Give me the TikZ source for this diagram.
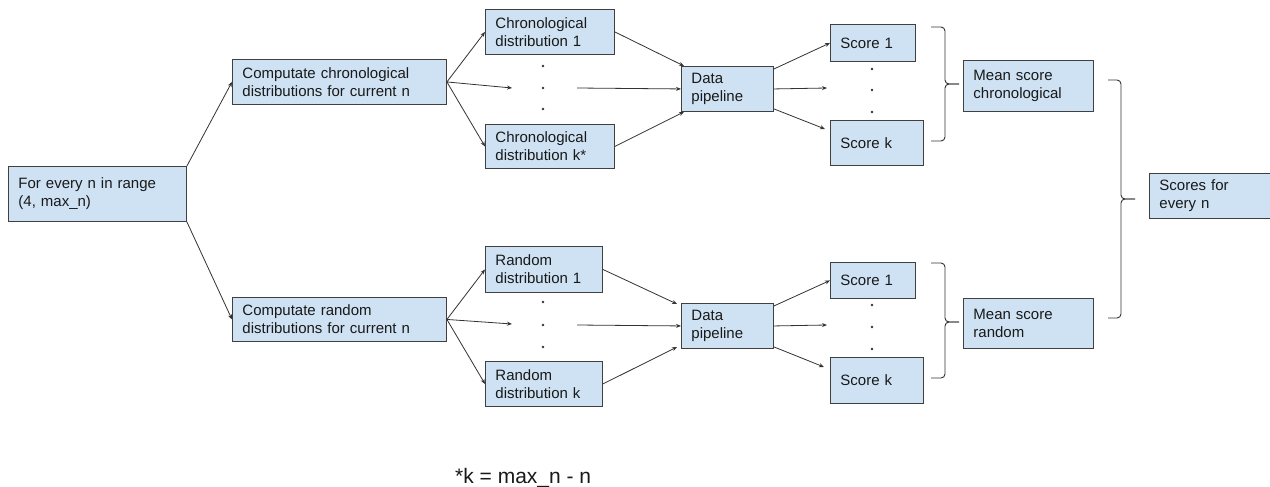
\documentclass[tikz,border=0pt]{standalone}
\usepackage{fontspec}
\setmainfont{Liberation Sans}
\usetikzlibrary{arrows.meta}
\definecolor{boxblue}{HTML}{CFE2F3}
\definecolor{boxline}{HTML}{404040}
\definecolor{linec}{HTML}{333333}
\begin{document}
\begin{tikzpicture}[x=1pt,y=-1pt,
  box/.style={draw=boxline, fill=boxblue, line width=0.9pt, anchor=north west,
    inner xsep=10pt, inner ysep=0pt, align=left, text=black!90,
    font=\fontsize{15}{18.3}\selectfont},
  conn/.style={draw=linec, line width=0.8pt, -{Stealth[length=5pt,width=4pt]}},
  brace/.style={draw=linec, line width=0.9pt, rounded corners=4pt},
  dotc/.style={fill=linec, draw=none}]
\useasboundingbox (0,0) rectangle (1270,487);
\clip (0,0) rectangle (1270,487);
\fill[white] (0,0) rectangle (1270,487);

% nodes
\node[box, text width=158pt, minimum height=55pt] (A) at (8,166) {For every n in range\\(4, max\_n)};
\node[box, text width=194pt, minimum height=45pt] (B) at (232,59) {Computate chronological\\distributions for current n};
\node[box, text width=194pt, minimum height=44pt] (C) at (232,297) {Computate random\\distributions for current n};
\node[box, text width=109pt, minimum height=45pt] (D1) at (485,9) {Chronological\\distribution 1};
\node[box, text width=109pt, minimum height=44pt] (Dk) at (485,124) {Chronological\\distribution k*};
\node[box, text width=72pt, minimum height=45pt] (P1) at (681,66) {Data\\pipeline};
\node[box, text width=65pt, minimum height=37pt] (S1) at (830,24) {Score 1};
\node[box, text width=73pt, minimum height=45pt] (Sk) at (830,120) {Score k};
\node[box, text width=110pt, minimum height=51pt] (M1) at (963,60) {Mean score\\chronological};
\node[box, text width=110pt, minimum height=45pt] (F) at (1149,173) {Scores for\\every n};
\node[box, text width=97pt, minimum height=46pt] (R1) at (485,246) {Random\\distribution 1};
\node[box, text width=97pt, minimum height=45pt] (Rk) at (485,361) {Random\\distribution k};
\node[box, text width=72pt, minimum height=45pt] (P2) at (681,303) {Data\\pipeline};
\node[box, text width=65pt, minimum height=36pt] (S1b) at (830,262) {Score 1};
\node[box, text width=73pt, minimum height=46pt] (Skb) at (830,357) {Score k};
\node[box, text width=110pt, minimum height=50pt] (M2) at (963,298) {Mean score\\random};

\node[anchor=base west, inner sep=0pt, text=black!90, font=\fontsize{21}{24}\selectfont] (foot) at (455,483) {*k = max\_n - n};

% free ends
\coordinate (dA) at (512,88);
\coordinate (dB) at (577,88);
\coordinate (eA) at (827,88);
\coordinate (fA) at (825,129);
\coordinate (dC) at (512,324);
\coordinate (dD) at (577,325);
\coordinate (eC) at (827,325);
\coordinate (fC) at (824,367);
\coordinate (gC) at (677,304);
\coordinate (hC) at (677,347);

% connectors
\draw[conn] (A.north east) -- (B.west);
\draw[conn] (A.south east) -- (C.west);
\draw[conn] (B.east) -- (D1.west);
\draw[conn] (B.east) -- (Dk.west);
\draw[conn] (B.east) -- (dA);
\draw[conn] (dB) -- (P1.west);
\draw[conn] (D1.east) -- ([xshift=3pt]P1.north west);
\draw[conn] (Dk.east) -- ([xshift=3pt]P1.south west);
\draw[conn] ([yshift=-3pt]P1.north east) -- (S1.west);
\draw[conn] (P1.east) -- (eA);
\draw[conn] ([yshift=3pt]P1.south east) -- (fA);

\draw[conn] (C.east) -- (R1.west);
\draw[conn] (C.east) -- (Rk.west);
\draw[conn] (C.east) -- (dC);
\draw[conn] (dD) -- (P2.west);
\draw[conn] (R1.east) -- (gC);
\draw[conn] (Rk.east) -- (hC);
\draw[conn] ([yshift=-3pt]P2.north east) -- (S1b.west);
\draw[conn] (P2.east) -- (eC);
\draw[conn] ([yshift=2pt]P2.south east) -- (fC);

% dots
\foreach \y in {66,88,109} \fill[dotc] (543,\y) circle (1.3pt);
\foreach \y in {302,325,347} \fill[dotc] (543,\y) circle (1.3pt);
\foreach \y in {69,90,112} \fill[dotc] (872,\y) circle (1.3pt);
\foreach \y in {305,327,349} \fill[dotc] (872,\y) circle (1.3pt);

% braces
\draw[brace] (931,27) -- (945,27) -- (945,84) -- (959,84);
\draw[brace] (959,84) -- (945,84) -- (945,141) -- (931,141);
\draw[brace] (931,263) -- (945,263) -- (945,322) -- (959,322);
\draw[brace] (959,322) -- (945,322) -- (945,378) -- (931,378);
\draw[brace] (1108,80) -- (1121,80) -- (1121,199) -- (1135,199);
\draw[brace] (1135,199) -- (1121,199) -- (1121,318) -- (1108,318);
\end{tikzpicture}
\end{document}
